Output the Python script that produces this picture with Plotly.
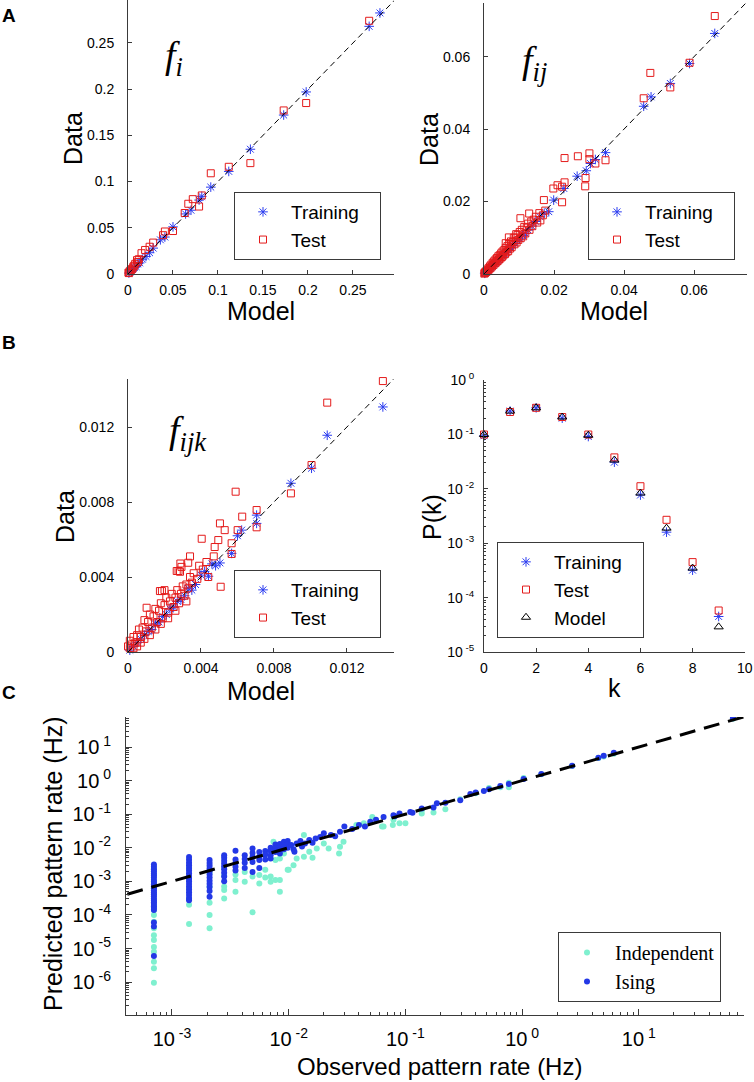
import plotly.graph_objects as go

W, H = 754, 1082

# ---------------- data ----------------
# Panel A left: single-neuron rates f_i (model, data)
fi_train = [(0.280, 0.2825), (0.268, 0.268), (0.198, 0.197), (0.173, 0.172), (0.136, 0.135),
            (0.112, 0.111), (0.092, 0.094), (0.082, 0.084), (0.079, 0.080), (0.070, 0.069),
            (0.064, 0.065), (0.050, 0.051), (0.041, 0.040), (0.036, 0.037), (0.028, 0.028),
            (0.024, 0.023), (0.020, 0.019), (0.016, 0.016), (0.013, 0.012), (0.011, 0.011),
            (0.009, 0.008), (0.007, 0.007), (0.005, 0.005), (0.004, 0.003), (0.002, 0.002),
            (0.001, 0.001)]
fi_test = [(0.268, 0.274), (0.198, 0.185), (0.173, 0.177), (0.136, 0.120), (0.112, 0.116),
           (0.092, 0.109), (0.082, 0.085), (0.079, 0.073), (0.072, 0.081), (0.067, 0.076),
           (0.063, 0.066), (0.050, 0.0465), (0.041, 0.046), (0.039, 0.042), (0.028, 0.034),
           (0.024, 0.0295), (0.019, 0.026), (0.015, 0.0225), (0.012, 0.016), (0.011, 0.013),
           (0.010, 0.015), (0.008, 0.011), (0.007, 0.009), (0.006, 0.008), (0.005, 0.006),
           (0.004, 0.005), (0.003, 0.004), (0.002, 0.003), (0.001, 0.001), (0.0005, 0.0015)]

# Panel A right: pairwise rates f_ij (model, data)
fij_train = [(0.0659, 0.0664), (0.0587, 0.0581), (0.0532, 0.0526), (0.0477, 0.0489), (0.0456, 0.0463),
             (0.0347, 0.0335), (0.0318, 0.0316), (0.0304, 0.0305), (0.0292, 0.0285), (0.0266, 0.0270),
             (0.0228, 0.0236), (0.0199, 0.0204), (0.0185, 0.0172), (0.0172, 0.0168), (0.0160, 0.0158),
             (0.0148, 0.0145), (0.0137, 0.0132), (0.0125, 0.0122), (0.0118, 0.0112), (0.0110, 0.0106),
             (0.0102, 0.0097), (0.0095, 0.0093), (0.0088, 0.0085), (0.0081, 0.0079), (0.0075, 0.0072),
             (0.0069, 0.0067), (0.0063, 0.0060), (0.0058, 0.0056), (0.0052, 0.0050), (0.0047, 0.0046),
             (0.0042, 0.0040), (0.0038, 0.0037), (0.0034, 0.0033), (0.0030, 0.0029), (0.0026, 0.0025),
             (0.0022, 0.0021), (0.0019, 0.0018), (0.0016, 0.0015), (0.0013, 0.0012), (0.0010, 0.0010),
             (0.0008, 0.0007), (0.0006, 0.0006), (0.0004, 0.0004), (0.0002, 0.0002)]
fij_test = [(0.0659, 0.0712), (0.0587, 0.0583), (0.0532, 0.0515), (0.0475, 0.0555), (0.0456, 0.0485),
            (0.0347, 0.0314), (0.0318, 0.0305), (0.0301, 0.0333), (0.0301, 0.0317), (0.0290, 0.0265),
            (0.0289, 0.0242), (0.0268, 0.0325), (0.0230, 0.0320), (0.0230, 0.0253), (0.0223, 0.0241),
            (0.0198, 0.0236), (0.0210, 0.0245), (0.0223, 0.0198), (0.0171, 0.0204), (0.0161, 0.0148),
            (0.0175, 0.0175), (0.0168, 0.0162), (0.0158, 0.0168), (0.0152, 0.0142), (0.0148, 0.0158),
            (0.0142, 0.0150), (0.0138, 0.0132), (0.0135, 0.0145), (0.0130, 0.0122), (0.0126, 0.0139),
            (0.0122, 0.0128), (0.0118, 0.0112), (0.0115, 0.0130), (0.0112, 0.0104), (0.0108, 0.0122),
            (0.0105, 0.0099), (0.0102, 0.0116), (0.0098, 0.0094), (0.0096, 0.0108), (0.0093, 0.0087),
            (0.0090, 0.0101), (0.0087, 0.0082), (0.0085, 0.0100), (0.0082, 0.0088), (0.0079, 0.0074),
            (0.0077, 0.0090), (0.0074, 0.0070), (0.0072, 0.0083), (0.0069, 0.0063), (0.0067, 0.0077),
            (0.0064, 0.0060), (0.0062, 0.0072), (0.0060, 0.0055), (0.0058, 0.0066), (0.0055, 0.0051),
            (0.0053, 0.0062), (0.0051, 0.0047), (0.0049, 0.0057), (0.0047, 0.0043), (0.0045, 0.0052),
            (0.0043, 0.0040), (0.0041, 0.0049), (0.0039, 0.0036), (0.0037, 0.0044), (0.0035, 0.0032),
            (0.0033, 0.0040), (0.0031, 0.0029), (0.0029, 0.0035), (0.0027, 0.0025), (0.0025, 0.0031),
            (0.0023, 0.0021), (0.0021, 0.0026), (0.0019, 0.0017), (0.0017, 0.0021), (0.0015, 0.0013),
            (0.0013, 0.0016), (0.0011, 0.0010), (0.0009, 0.0012), (0.0007, 0.0006), (0.0005, 0.0007),
            (0.0003, 0.0003), (0.0002, 0.0004), (0.0001, 0.0001), (0.0104, 0.0154), (0.0071, 0.0101),
            (0.0129, 0.0167), (0.0062, 0.0085), (0.0092, 0.0110)]

# Panel B left: triplet rates f_ijk (model, data)
fijk_train = [(0.01397, 0.01307), (0.01092, 0.01156), (0.01006, 0.00980), (0.00893, 0.00900),
              (0.00705, 0.00730), (0.00705, 0.00686), (0.00623, 0.00650), (0.00600, 0.00620),
              (0.00568, 0.00526), (0.00504, 0.00475), (0.00480, 0.00460), (0.00460, 0.00470),
              (0.00441, 0.00404), (0.00420, 0.00430), (0.00400, 0.00410), (0.00370, 0.00360),
              (0.00350, 0.00330), (0.00330, 0.00340), (0.00310, 0.00300), (0.00290, 0.00280),
              (0.00270, 0.00270), (0.00250, 0.00240), (0.00230, 0.00230), (0.00210, 0.00200),
              (0.00190, 0.00190), (0.00170, 0.00160), (0.00150, 0.00150), (0.00130, 0.00120),
              (0.00110, 0.00110), (0.00090, 0.00090), (0.00070, 0.00070), (0.00050, 0.00050),
              (0.00030, 0.00030), (0.00010, 0.00010)]
fijk_test = [(0.01397, 0.01445), (0.01092, 0.01330), (0.01006, 0.00997), (0.00893, 0.00846),
             (0.00705, 0.00757), (0.00705, 0.00665), (0.00626, 0.00722), (0.00590, 0.00855),
             (0.00601, 0.00650), (0.00504, 0.00686), (0.00530, 0.00650), (0.00404, 0.00604),
             (0.00495, 0.00597), (0.00568, 0.00580), (0.00568, 0.00523), (0.00475, 0.00560),
             (0.00508, 0.00348), (0.00267, 0.00432), (0.00277, 0.00432), (0.00287, 0.00472),
             (0.00293, 0.00454), (0.00340, 0.00510), (0.00175, 0.00325), (0.00186, 0.00325),
             (0.00102, 0.00236), (0.00285, 0.00428), (0.00330, 0.00476), (0.00200, 0.00330),
             (0.00430, 0.00480), (0.00410, 0.00440), (0.00390, 0.00460), (0.00380, 0.00390),
             (0.00360, 0.00420), (0.00350, 0.00370), (0.00340, 0.00400), (0.00330, 0.00340),
             (0.00320, 0.00360), (0.00310, 0.00300), (0.00300, 0.00350), (0.00290, 0.00310),
             (0.00280, 0.00260), (0.00270, 0.00330), (0.00260, 0.00290), (0.00250, 0.00240),
             (0.00240, 0.00310), (0.00230, 0.00270), (0.00220, 0.00210), (0.00210, 0.00290),
             (0.00200, 0.00250), (0.00190, 0.00180), (0.00180, 0.00260), (0.00170, 0.00220),
             (0.00160, 0.00160), (0.00150, 0.00230), (0.00140, 0.00190), (0.00130, 0.00130),
             (0.00120, 0.00200), (0.00110, 0.00160), (0.00100, 0.00110), (0.00090, 0.00170),
             (0.00080, 0.00130), (0.00070, 0.00080), (0.00060, 0.00120), (0.00050, 0.00090),
             (0.00040, 0.00050), (0.00030, 0.00080), (0.00020, 0.00040), (0.00010, 0.00020),
             (0.00000, 0.00030), (0.00010, 0.00060), (0.00030, 0.00020), (0.00050, 0.00030),
             (0.00070, 0.00050), (0.00090, 0.00070), (0.00120, 0.00090), (0.00150, 0.00120),
             (0.00180, 0.00150), (0.00220, 0.00180), (0.00260, 0.00220), (0.00320, 0.00270),
             (0.00440, 0.00400), (0.00470, 0.00510)]

# Panel B right: spike-count distribution P(k)
k_vals = [0, 1, 2, 3, 4, 5, 6, 7, 8, 9]
pk_train = [0.095, 0.27, 0.31, 0.20, 0.092, 0.031, 0.0077, 0.0016, 0.00032, 4.5e-5]
pk_test = [0.100, 0.26, 0.31, 0.21, 0.100, 0.038, 0.0112, 0.0027, 0.00045, 5.8e-5]
pk_model = [0.100, 0.27, 0.31, 0.21, 0.097, 0.034, 0.0084, 0.0019, 0.00035, 2.9e-5]

# Panel C: observed vs predicted pattern rates (Hz)
ising_columns = [
    (7.0e-4, [3.2e-3, 2.7e-3, 2.3e-3, 2.0e-3, 1.7e-3, 1.5e-3, 1.3e-3, 1.1e-3, 9.5e-4, 8.2e-4,
              7.1e-4, 6.2e-4, 5.4e-4, 4.7e-4, 4.1e-4, 3.6e-4, 3.1e-4, 2.7e-4, 2.4e-4, 2.1e-4,
              1.8e-4, 1.6e-4, 1.4e-4, 5.9e-5, 4.5e-5, 6.0e-6]),
    (1.4e-3, [5.3e-3, 4.4e-3, 3.6e-3, 3.0e-3, 2.5e-3, 2.1e-3, 1.75e-3, 1.45e-3, 1.2e-3, 1.0e-3,
              8.3e-4, 6.9e-4, 5.7e-4, 4.7e-4, 3.9e-4, 3.2e-4, 2.75e-4]),
    (2.1e-3, [4.3e-3, 3.5e-3, 2.9e-3, 2.4e-3, 2.0e-3, 1.6e-3, 1.3e-3, 1.05e-3, 8.5e-4, 6.8e-4,
              5.2e-4, 3.5e-4]),
    (2.8e-3, [6.0e-3, 5.0e-3, 4.1e-3, 3.4e-3, 2.8e-3, 2.3e-3, 1.8e-3, 1.4e-3, 1.0e-3]),
    (3.5e-3, [8.1e-3, 4.5e-3, 3.5e-3, 2.7e-3, 2.1e-3]),
    (4.2e-3, [6.0e-3, 4.6e-3, 3.6e-3, 2.5e-3]),
    (4.9e-3, [9.5e-3, 7.0e-3, 5.3e-3, 3.8e-3, 1.9e-3]),
    (5.6e-3, [7.5e-3, 5.4e-3, 4.3e-3, 2.5e-3]),
    (6.3e-3, [8.0e-3, 6.2e-3, 4.5e-3]),
    (7.0e-3, [1.0e-2, 8.0e-3, 6.0e-3, 4.8e-3]),
    (7.7e-3, [1.25e-2, 9.5e-3, 7.5e-3]),
    (8.4e-3, [1.3e-2, 1.05e-2, 8.5e-3, 6.8e-3]),
    (9.1e-3, [1.5e-2, 1.15e-2, 9.0e-3]),
    (9.8e-3, [1.6e-2, 1.3e-2, 1.0e-2]),
]
ising_scatter = [(1.17e-2, 1.35e-2), (1.12e-2, 7.6e-3), (1.26e-2, 1.6e-2), (1.38e-2, 1.35e-2),
                 (1.5e-2, 1.7e-2), (1.86e-2, 2.1e-2), (2.0e-2, 2.7e-2), (2.3e-2, 2.4e-2),
                 (2.75e-2, 3.0e-2), (3.0e-2, 4.3e-2), (4.0e-2, 4.8e-2), (4.5e-2, 4.3e-2),
                 (5.0e-2, 6.0e-2), (5.6e-2, 6.8e-2), (6.5e-2, 8.3e-2), (7.9e-2, 9.3e-2),
                 (8.1e-2, 8.7e-2), (8.9e-2, 0.105), (0.11, 0.117), (0.115, 0.11), (0.138, 0.148),
                 (0.174, 0.158), (0.186, 0.21), (0.22, 0.22), (0.295, 0.26), (0.36, 0.40),
                 (0.40, 0.44), (0.47, 0.49), (0.52, 0.55), (0.65, 0.69), (0.77, 0.79),
                 (1.03, 1.11), (1.46, 1.57), (2.68, 2.75), (4.5, 4.8), (5.0, 5.5), (6.1, 6.8),
                 (64.0, 72.0), (1.05e-2, 1.2e-2), (1.1e-2, 9.0e-3), (1.3e-2, 1.1e-2),
                 (1.6e-2, 1.4e-2), (1.7e-2, 1.9e-2), (2.5e-2, 2.2e-2), (3.5e-2, 3.6e-2)]

indep_columns = [
    (7.0e-4, [2.4e-3, 1.6e-3, 1.0e-3, 6.5e-4, 4.2e-4, 2.8e-4, 1.9e-4, 1.4e-4, 1.0e-4, 6.3e-5,
              4.0e-5, 2.5e-5, 1.8e-5, 1.1e-5, 8.0e-6, 4.0e-6, 2.6e-6, 9.5e-7]),
    (1.4e-3, [2.5e-3, 1.2e-3, 6.0e-4, 3.0e-4, 2.0e-4, 5.4e-5]),
    (2.1e-3, [1.8e-3, 7.0e-4, 2.3e-4, 1.0e-4, 4.0e-5]),
    (2.8e-3, [2.5e-3, 1.5e-3, 7.0e-4, 5.5e-4, 3.1e-4]),
    (3.5e-3, [1.6e-3, 1.1e-3, 4.9e-4]),
    (4.2e-3, [1.9e-3, 9.8e-4]),
    (4.9e-3, [1.4e-3, 1.2e-4]),
    (5.6e-3, [1.55e-3, 8.7e-4]),
    (6.3e-3, [2.2e-3, 1.3e-3]),
    (7.0e-3, [1.4e-3, 9.8e-4]),
    (7.7e-3, [4.3e-3, 1.1e-3]),
    (8.4e-3, [4.8e-3, 1.1e-3, 4.9e-4]),
    (9.1e-3, [6.8e-3]),
    (9.8e-3, [2.2e-3]),
]
indep_scatter = [(7.4e-3, 1.5e-2), (1.17e-2, 4.8e-3), (1.35e-2, 5.4e-3), (1.35e-2, 2.4e-2),
                 (1.5e-2, 7.6e-3), (1.74e-2, 9.5e-3), (2.0e-2, 1.35e-2), (2.2e-2, 9.5e-3),
                 (2.7e-2, 6.8e-3), (2.75e-2, 1.07e-2), (2.95e-2, 1.5e-2), (3.8e-2, 4.8e-2),
                 (4.4e-2, 5.4e-2), (5.2e-2, 8.3e-2), (6.3e-2, 4.3e-2), (6.5e-2, 4.3e-2),
                 (7.8e-2, 4.8e-2), (7.9e-2, 6.8e-2), (8.9e-2, 5.4e-2), (0.10, 5.4e-2),
                 (0.138, 0.105), (0.138, 0.13), (0.174, 0.112), (0.22, 0.14), (0.295, 0.28),
                 (0.40, 0.42), (0.52, 0.60), (0.65, 0.63), (0.77, 0.87), (0.77, 0.63),
                 (1.03, 1.2), (1.46, 1.55), (2.68, 2.7), (4.5, 4.7), (5.0, 5.2), (6.1, 6.3),
                 (64.0, 69.0), (1.0e-2, 2.2e-3), (1.1e-2, 3.0e-3), (1.6e-2, 5.0e-3)]

# legend labels (trailing no-break spaces give the box its right-hand padding)
PAD = "\u00a0\u00a0\u00a0"
LBL_TRAIN = "Training" + PAD
LBL_TEST = "Test"
LBL_MODEL = "Model"

# ---------------- styling helpers ----------------
AX = "#3a3a3a"
BLUE = "#2b3cf0"
RED = "#e41b1b"
CYAN = "#7ff0cf"
IBLUE = "#2338e6"


def px(xp, yp):
    return xp / W, 1 - yp / H


def dom(x0, x1, y0, y1):
    return [x0 / W, x1 / W], [1 - y1 / H, 1 - y0 / H]


def unzip(pairs):
    return [p[0] for p in pairs], [p[1] for p in pairs]


fig = go.Figure()


def add_pair_panel(train, test, xa, ya, leg):
    tx, ty = unzip(train)
    sx, sy = unzip(test)
    fig.add_trace(go.Scatter(x=tx, y=ty, mode="markers", name=LBL_TRAIN, xaxis=xa, yaxis=ya,
                             legend=leg, cliponaxis=False,
                             marker=dict(symbol="asterisk-open", size=8, color=BLUE,
                                         line=dict(color=BLUE, width=1))))
    fig.add_trace(go.Scatter(x=sx, y=sy, mode="markers", name=LBL_TEST, xaxis=xa, yaxis=ya,
                             legend=leg, cliponaxis=False,
                             marker=dict(symbol="square-open", size=7, color=RED,
                                         line=dict(color=RED, width=1))))
    fig.add_trace(go.Scatter(x=[0, 1], y=[0, 1], mode="lines", xaxis=xa, yaxis=ya,
                             showlegend=False, hoverinfo="skip",
                             line=dict(color="black", width=1, dash="6px,4px")))


add_pair_panel(fi_train, fi_test, "x", "y", "legend")
add_pair_panel(fij_train, fij_test, "x2", "y2", "legend2")
add_pair_panel(fijk_train, fijk_test, "x3", "y3", "legend3")

# P(k)
fig.add_trace(go.Scatter(x=k_vals, y=pk_train, mode="markers", name=LBL_TRAIN, xaxis="x4", yaxis="y4",
                         legend="legend4", cliponaxis=False,
                         marker=dict(symbol="asterisk-open", size=8, color=BLUE,
                                     line=dict(color=BLUE, width=1))))
fig.add_trace(go.Scatter(x=k_vals, y=pk_test, mode="markers", name=LBL_TEST, xaxis="x4", yaxis="y4",
                         legend="legend4", cliponaxis=False,
                         marker=dict(symbol="square-open", size=7, color=RED,
                                     line=dict(color=RED, width=1))))
fig.add_trace(go.Scatter(x=k_vals, y=pk_model, mode="markers", name=LBL_MODEL, xaxis="x4", yaxis="y4",
                         legend="legend4", cliponaxis=False,
                         marker=dict(symbol="triangle-up-open", size=8, color="black",
                                     line=dict(color="black", width=1))))

# Panel C
ix, iy = [], []
for r, vals in indep_columns:
    for v in vals:
        ix.append(r)
        iy.append(v)
sx, sy = unzip(indep_scatter)
ix += sx
iy += sy
gx, gy = [], []
for r, vals in ising_columns:
    for v in vals:
        gx.append(r)
        gy.append(v)
sx, sy = unzip(ising_scatter)
gx += sx
gy += sy
fig.add_trace(go.Scatter(x=ix, y=iy, mode="markers", name="Independent", xaxis="x5", yaxis="y5",
                         legend="legend5", marker=dict(symbol="circle", size=6, color=CYAN)))
fig.add_trace(go.Scatter(x=gx, y=gy, mode="markers", name="Ising", xaxis="x5", yaxis="y5",
                         legend="legend5", marker=dict(symbol="circle", size=6, color=IBLUE)))
fig.add_trace(go.Scatter(x=[1e-4, 100], y=[1e-4, 100], mode="lines", xaxis="x5", yaxis="y5",
                         showlegend=False, hoverinfo="skip",
                         line=dict(color="black", width=3, dash="16px,9px")))

# ---------------- axes ----------------
TF = dict(family="Liberation Sans, Arial, sans-serif", size=14, color="black")
base = dict(showline=True, linecolor=AX, linewidth=1, ticks="inside", ticklen=4, tickcolor=AX,
            tickwidth=1, showgrid=False, zeroline=False, tickfont=TF, automargin=False,
            fixedrange=True, ticklabeloverflow="allow")


def lin_axis(dmn, rng, vals, texts, anchor, standoff):
    d = dict(base)
    d.update(domain=dmn, range=rng, tickmode="array", tickvals=vals, ticktext=texts, anchor=anchor,
             ticklabelstandoff=standoff)
    return d


def sup(e):
    return "10<sup>\u00a0" + str(e) + "</sup>"


def minor_vals(lo, hi):
    out = []
    for e in range(lo, hi + 1):
        for m in range(2, 10):
            out.append(m * 10 ** e)
    return out


xdA1, ydA1 = dom(128, 394, 0, 274)
xdA2, ydA2 = dom(484, 747, 3, 274)
xdB1, ydB1 = dom(128, 394, 379, 652)
xdB2, ydB2 = dom(484, 745, 380, 652)
xdC, ydC = dom(126, 744, 717, 1015)

fiv = [0, 0.05, 0.1, 0.15, 0.2, 0.25]
fit = ["0", "0.05", "0.1", "0.15", "0.2", "0.25"]
fijv = [0, 0.02, 0.04, 0.06]
fijt = ["0", "0.02", "0.04", "0.06"]
fijkv = [0, 0.004, 0.008, 0.012]
fijkt = ["0", "0.004", "0.008", "0.012"]
kv = [0, 2, 4, 6, 8, 10]
kt = ["0", "2", "4", "6", "8", "10"]

layout_axes = dict(
    xaxis=lin_axis(xdA1, [0, 0.2956], fiv, fit, "y", 3),
    yaxis=lin_axis(ydA1, [0, 0.2965], fiv, fit, "x", 10),
    xaxis2=lin_axis(xdA2, [0, 0.0751], fijv, fijt, "y2", 3),
    yaxis2=lin_axis(ydA2, [0, 0.0748], fijv, fijt, "x2", 10),
    xaxis3=lin_axis(xdB1, [0, 0.01458], fijkv, fijkt, "y3", 3),
    yaxis3=lin_axis(ydB1, [0, 0.01456], fijkv, fijkt, "x3", 10),
    xaxis4=lin_axis(xdB2, [0, 10.01], kv, kt, "y4", 3),
)
y4 = dict(base)
y4.update(domain=ydB2, type="log", range=[-5, 0.003], anchor="x4", tickmode="array",
          tickvals=[1e-5, 1e-4, 1e-3, 1e-2, 1e-1, 1],
          ticktext=[sup(-5), sup(-4), sup(-3), sup(-2), sup(-1), sup(0)],
          ticklabelstandoff=6,
          minor=dict(ticks="inside", ticklen=2, tickcolor=AX, tickmode="array",
                     tickvals=minor_vals(-5, -1)))
layout_axes["yaxis4"] = y4

TFC = dict(family="Liberation Sans, Arial, sans-serif", size=20, color="black")
x5 = dict(base)
x5.update(domain=xdC, type="log", range=[-3.394, 1.901], anchor="y5", tickmode="array",
          tickvals=[1e-3, 1e-2, 1e-1, 1, 10], ticktext=[sup(-3), sup(-2), sup(-1), sup(0), sup(1)],
          tickfont=TFC, ticklen=6, ticklabelstandoff=6,
          minor=dict(ticks="inside", ticklen=3, tickcolor=AX, tickmode="array",
                     tickvals=minor_vals(-4, 1)))
y5 = dict(base)
y5.update(domain=ydC, type="log", range=[-6.98, 1.894], anchor="x5", tickmode="array",
          tickvals=[1e-6, 1e-5, 1e-4, 1e-3, 1e-2, 1e-1, 1, 10],
          ticktext=[sup(-6), sup(-5), sup(-4), sup(-3), sup(-2), sup(-1), sup(0), sup(1)],
          tickfont=TFC, ticklen=6, ticklabelstandoff=10,
          minor=dict(ticks="inside", ticklen=3, tickcolor=AX, tickmode="array",
                     tickvals=minor_vals(-7, 1)))
layout_axes["xaxis5"] = x5
layout_axes["yaxis5"] = y5

# ---------------- legends ----------------
LF = dict(family="Liberation Sans, Arial, sans-serif", size=19, color="black")


def leg(xp, yp_bottom, font=LF):
    x, y = px(xp, yp_bottom)
    return dict(x=x, y=y, xanchor="left", yanchor="bottom", bgcolor="white", bordercolor=AX,
                borderwidth=1, font=font, itemsizing="trace", tracegroupgap=0, itemwidth=46,
                itemclick=False, itemdoubleclick=False)


legends = dict(
    legend=leg(234, 260),
    legend2=leg(588, 260),
    legend3=leg(234, 638),
    legend4=leg(497, 638),
    legend5=leg(558, 1002, dict(family="Liberation Serif, Times New Roman, serif", size=20,
                               color="black")),
)

# ---------------- annotations ----------------
anns = []


def ann(xp, yp, text, size, angle=0, family="Liberation Sans, Arial, sans-serif", **kw):
    x, y = px(xp, yp)
    anns.append(dict(x=x, y=y, xref="paper", yref="paper", text=text, showarrow=False,
                     xanchor="center", yanchor="middle", textangle=angle,
                     font=dict(family=family, size=size, color="black"), **kw))


ann(9, 16, "<b>A</b>", 19)
ann(9, 342, "<b>B</b>", 19)
ann(9, 692, "<b>C</b>", 19)

ann(261, 311, "Model", 25)
ann(73, 139, "Data", 25, angle=-90)
ann(614, 311, "Model", 25)
ann(429, 140, "Data", 25, angle=-90)
ann(65, 517, "Data", 25, angle=-90)
ann(261, 691, "Model", 25)
ann(432, 517, "P(k)", 25, angle=-90)
ann(614, 688, "k", 25)
ann(53, 864, "Predicted pattern rate (Hz)", 25, angle=-90)
ann(439, 1066, "Observed pattern rate (Hz)", 24)

SER = "Liberation Serif, Times New Roman, serif"
ann(174, 58, "<i>f</i><sub><i>i</i></sub>", 38, family=SER)
ann(534, 63, "<i>f</i><sub><i>ij</i></sub>", 38, family=SER)
ann(188, 433, "<i>f</i><sub><i>ijk</i></sub>", 38, family=SER)

fig.update_layout(width=W, height=H, margin=dict(l=0, r=0, t=0, b=0),
                  paper_bgcolor="white", plot_bgcolor="white",
                  annotations=anns, **layout_axes, **legends)

# remove the browser's default 8px page margin so the figure fills the window exactly
fig.write_html("out.html", config={"displayModeBar": False},
               post_script="document.body.style.margin='0px';document.body.style.overflow='hidden';")
